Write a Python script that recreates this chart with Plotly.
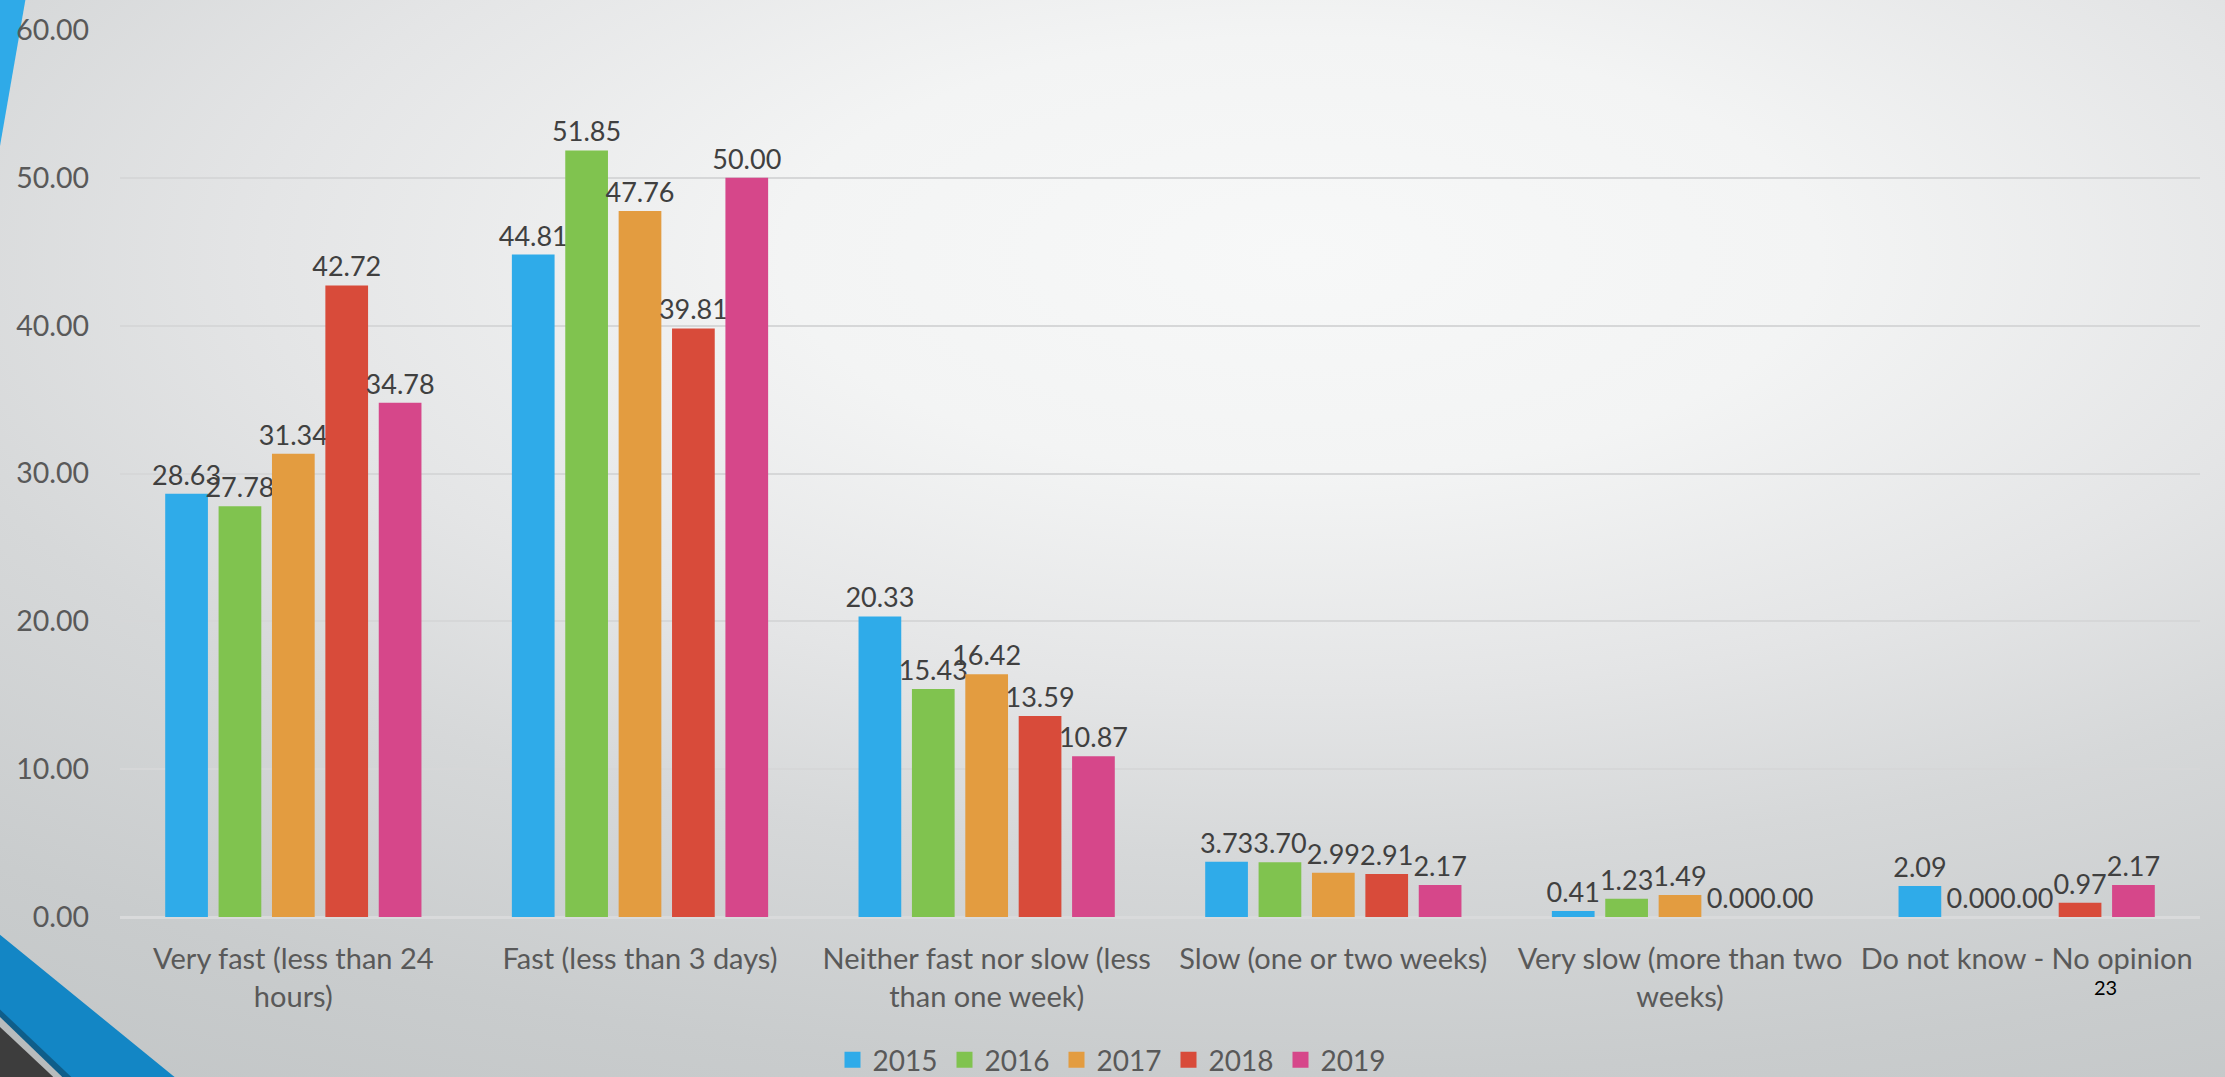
import base64
import plotly.graph_objects as go

categories = [
    "Very fast (less than 24<br>hours)",
    "Fast (less than 3 days)",
    "Neither fast nor slow (less<br>than one week)",
    "Slow (one or two weeks)",
    "Very slow (more than two<br>weeks)",
    "Do not know - No opinion",
]
years = ["2015", "2016", "2017", "2018", "2019"]
v2015 = [28.63, 44.81, 20.33, 3.73, 0.41, 2.09]
v2016 = [27.78, 51.85, 15.43, 3.70, 1.23, 0.00]
v2017 = [31.34, 47.76, 16.42, 2.99, 1.49, 0.00]
v2018 = [42.72, 39.81, 13.59, 2.91, 0.00, 0.97]
v2019 = [34.78, 50.00, 10.87, 2.17, 0.00, 2.17]
series = [v2015, v2016, v2017, v2018, v2019]
colors = ["#2FABE9", "#80C34F", "#E39C40", "#D84B3A", "#D6478A"]
y_ticks = [0, 10, 20, 30, 40, 50, 60]

W, H = 2225, 1077
ML, MR, MT, MB = 120, 25, 23, 160
P = 40  # padding around background artwork
FONT = "Lato, 'Open Sans', sans-serif"

SW, SH = W + 2 * P, H + 2 * P
svg = f"""<svg xmlns='http://www.w3.org/2000/svg' width='{SW}' height='{SH}' viewBox='0 0 {SW} {SH}' preserveAspectRatio='none'>
<defs>
<radialGradient id='g' gradientUnits='userSpaceOnUse' cx='1300' cy='250' r='1100'
 gradientTransform='translate(1300 250) scale(2.36 1) translate(-1300 -250)'>
<stop offset='0' stop-color='#f7f8f8'/>
<stop offset='0.2' stop-color='#f3f4f4'/>
<stop offset='0.4' stop-color='#e4e5e6'/>
<stop offset='0.55' stop-color='#d6d8d9'/>
<stop offset='0.75' stop-color='#c9cccd'/>
<stop offset='1' stop-color='#bec2c3'/>
</radialGradient>
</defs>
<g transform='translate({P} {P})'>
<rect x='{-P}' y='{-P}' width='{SW}' height='{SH}' fill='url(#g)'/>
<polygon points='{-P},{-P} 31,{-P} 0,140 {-P},185' fill='#2FAAE8'/>
<polygon points='{-P},902 173,1077 225,{1077 + P} {-P},{1077 + P}' fill='#1386C5'/>
<polygon points='{-P},972 70,1077 110,{1077 + P} {-P},{1077 + P}' fill='#0F5E8A'/>
<polygon points='{-P},979 61,1077 100,{1077 + P} {-P},{1077 + P}' fill='#b8bcbd'/>
<polygon points='{-P},990 52,1077 90,{1077 + P} {-P},{1077 + P}' fill='#3d3d3d'/>
</g>
</svg>"""
src = "data:image/svg+xml;base64," + base64.b64encode(svg.encode()).decode()

fig = go.Figure()
for name, vals, col in zip(years, series, colors):
    fig.add_trace(go.Bar(
        name=name, x=categories, y=vals, legendgroup=name, showlegend=False,
        marker=dict(color=col, line=dict(width=0)),
        text=[f"{v:.2f}" for v in vals], textposition="outside",
        textfont=dict(family=FONT, size=27, color="#404040"),
        constraintext="none", cliponaxis=False,
    ))
# legend-only entries with larger square swatches
for name, col in zip(years, colors):
    fig.add_trace(go.Scatter(
        name=name, x=[None], y=[None], mode="markers", legendgroup=name,
        marker=dict(symbol="square", size=16, color=col), showlegend=True,
        hoverinfo="skip",
    ))

pw = W - ML - MR
ph = H - MT - MB


def px_to_paper(xp, yp):
    return (xp - ML) / pw, (H - MB - yp) / ph


ax_, ay_ = px_to_paper(2119, 1002)

fig.update_layout(
    width=W, height=H,
    margin=dict(l=ML, r=MR, t=MT, b=MB),
    paper_bgcolor="#dcdedf",
    plot_bgcolor="rgba(0,0,0,0)",
    barmode="group", bargap=0.23, bargroupgap=0.2,
    font=dict(family=FONT, size=28, color="#595959"),
    images=[dict(source=src, xref="paper", yref="paper",
                 x=-(ML + P) / pw, y=1 + (MT + P) / ph, sizex=SW / pw, sizey=SH / ph,
                 xanchor="left", yanchor="top", sizing="stretch", layer="below")],
    legend=dict(orientation="h", xref="container", yref="container",
                x=0.5, xanchor="center", y=1 - 1060 / H, yanchor="middle",
                font=dict(family=FONT, size=28, color="#595959"),
                bgcolor="rgba(0,0,0,0)", itemwidth=30,
                entrywidth=67, entrywidthmode="pixels"),
    showlegend=True,
    annotations=[dict(text="23", xref="paper", yref="paper",
                      x=ax_, y=ay_, showarrow=False,
                      font=dict(family=FONT, size=20, color="#000000"))],
)
fig.update_yaxes(range=[0, 60], tickvals=y_ticks, tickformat=".2f",
                 showgrid=True, gridcolor="#d6d7d8", gridwidth=1.5,
                 zeroline=True, zerolinecolor="#d9dadb", zerolinewidth=2.5,
                 showline=False, ticks="", ticklabelstandoff=30,
                 tickfont=dict(family=FONT, size=28.5, color="#595959"))
fig.update_xaxes(showgrid=False, showline=False, ticks="", ticklabelstandoff=22,
                 tickfont=dict(family=FONT, size=29, color="#595959"))

fig.write_html("out.html",
               config={"displayModeBar": False},
               post_script="document.body.style.margin='0px';"
                           "document.body.style.overflow='hidden';"
                           "document.body.style.background='#e4e5e6';"
                           "document.documentElement.style.background='#e4e5e6';")
